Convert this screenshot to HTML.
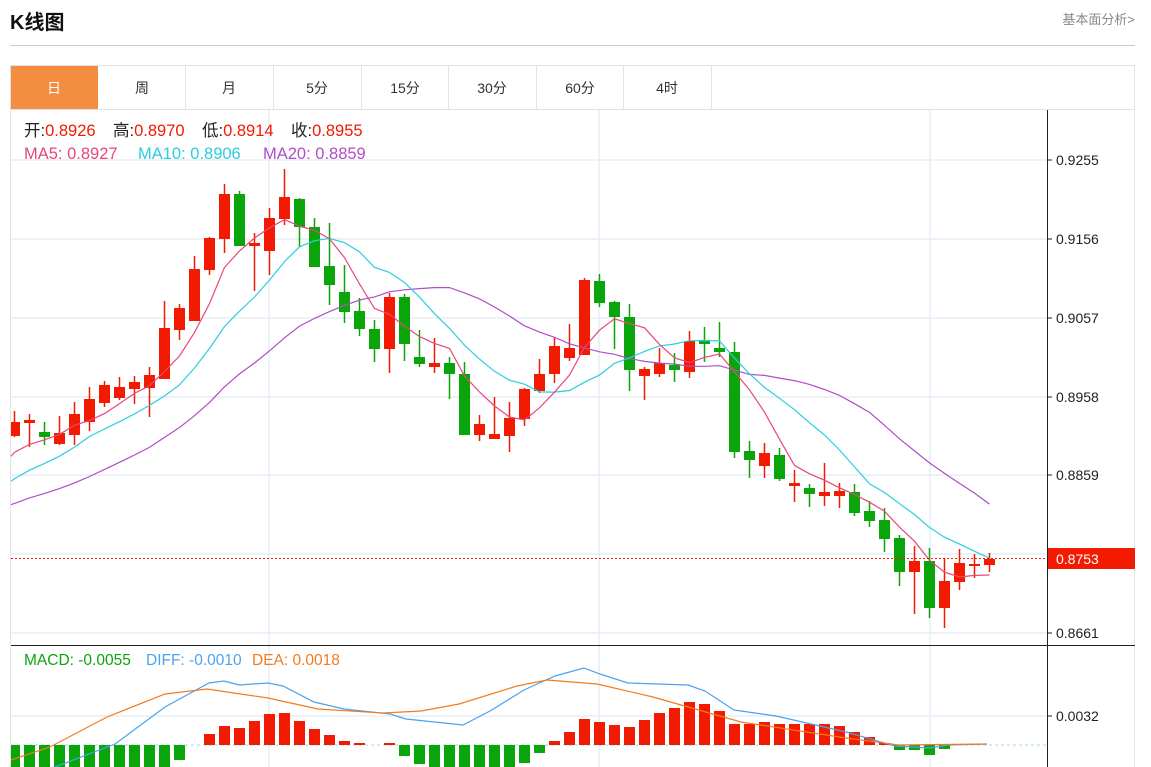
<!DOCTYPE html>
<html><head><meta charset="utf-8">
<style>
body{margin:0;width:1151px;height:767px;overflow:hidden;background:#fff;font-family:"Liberation Sans","Noto Sans CJK SC",sans-serif;}
#t{position:absolute;left:10px;top:6px;font-size:20px;font-weight:bold;color:#111;}
#r{position:absolute;right:16px;top:9px;font-size:13px;color:#888;}
svg{position:absolute;left:0;top:0;}
</style></head><body>
<div id="t">K线图</div>
<div id="r">基本面分析&gt;</div>
<svg id="s" width="1151" height="767" font-family="Liberation Sans, Noto Sans CJK SC, sans-serif">
<defs><clipPath id="cp"><rect x="11" y="110" width="1036" height="657"/></clipPath></defs>
<line x1="10" y1="45.5" x2="1135" y2="45.5" stroke="#ccc"/>
<rect x="10.5" y="65.5" width="1124" height="702" fill="none" stroke="#e3e3e3"/>
<line x1="10" y1="109.5" x2="1135" y2="109.5" stroke="#e3e3e3"/>
<rect x="11" y="66" width="87" height="43" fill="#f38d40"/>
<g stroke="#e3e3e3"><line x1="185.5" y1="66" x2="185.5" y2="109"/><line x1="273.5" y1="66" x2="273.5" y2="109"/><line x1="361.5" y1="66" x2="361.5" y2="109"/><line x1="448.5" y1="66" x2="448.5" y2="109"/><line x1="536.5" y1="66" x2="536.5" y2="109"/><line x1="623.5" y1="66" x2="623.5" y2="109"/><line x1="711.5" y1="66" x2="711.5" y2="109"/></g>
<g font-size="14" text-anchor="middle" fill="#333">
<text x="54" y="93" fill="#fff">日</text><text x="142" y="93">周</text><text x="229" y="93">月</text><text x="317" y="93">5分</text><text x="405" y="93">15分</text><text x="492" y="93">30分</text><text x="580" y="93">60分</text><text x="667" y="93">4时</text>
</g>
<g stroke="#e6edf5" stroke-width="1.5">
<line x1="11" y1="160" x2="1047" y2="160"/><line x1="11" y1="239" x2="1047" y2="239"/><line x1="11" y1="318" x2="1047" y2="318"/><line x1="11" y1="397" x2="1047" y2="397"/><line x1="11" y1="475" x2="1047" y2="475"/><line x1="11" y1="554" x2="1047" y2="554"/><line x1="11" y1="633" x2="1047" y2="633"/><line x1="11" y1="716" x2="1047" y2="716"/>
<line x1="269" y1="110" x2="269" y2="767"/><line x1="599" y1="110" x2="599" y2="767"/><line x1="930" y1="110" x2="930" y2="767"/>
</g>
<line x1="1047.5" y1="110" x2="1047.5" y2="767" stroke="#222"/>
<line x1="11" y1="645.5" x2="1135" y2="645.5" stroke="#222"/>
<g font-size="14" fill="#222">
<g stroke="#222"><line x1="1047" y1="160" x2="1052" y2="160"/><line x1="1047" y1="239" x2="1052" y2="239"/><line x1="1047" y1="318" x2="1052" y2="318"/><line x1="1047" y1="397" x2="1052" y2="397"/><line x1="1047" y1="475" x2="1052" y2="475"/><line x1="1047" y1="633" x2="1052" y2="633"/><line x1="1047" y1="716" x2="1052" y2="716"/></g>
<text x="1056" y="165">0.9255</text><text x="1056" y="244">0.9156</text><text x="1056" y="323">0.9057</text><text x="1056" y="402">0.8958</text><text x="1056" y="480">0.8859</text><text x="1056" y="638">0.8661</text><text x="1056" y="721">0.0032</text>
</g>
<g id="c" clip-path="url(#cp)"></g>
<line x1="11" y1="558.5" x2="1047" y2="558.5" stroke="#f21a00" stroke-dasharray="2,2"/>
<rect x="1048" y="548" width="87" height="21" fill="#f21a00"/>
<text x="1056" y="564" font-size="14" fill="#fff">0.8753</text>
<g font-size="16.5">
<text x="24" y="136" fill="#222">开:<tspan fill="#f21a00">0.8926</tspan></text>
<text x="113" y="136" fill="#222">高:<tspan fill="#f21a00">0.8970</tspan></text>
<text x="202" y="136" fill="#222">低:<tspan fill="#f21a00">0.8914</tspan></text>
<text x="291" y="136" fill="#222">收:<tspan fill="#f21a00">0.8955</tspan></text>
<text x="24" y="159" fill="#e9467a">MA5: 0.8927</text>
<text x="138" y="159" fill="#2ccde0">MA10: 0.8906</text>
<text x="263" y="159" fill="#b04ec6">MA20: 0.8859</text>
</g>
<g font-size="15.5">
<text x="24" y="665" fill="#0aa50a">MACD: -0.0055</text>
<text x="146" y="665" fill="#4aa3f0">DIFF: -0.0010</text>
<text x="252" y="665" fill="#f37b1d">DEA: 0.0018</text>
</g>
</svg>
<script>
var C=[
[422,436,411,437,1],[420,423,414,447,1],[432,437,422,445,0],[433,444,416,445,1],[414,435,402,445,1],[399,422,387,431,1],[385,403,381,407,1],[387,398,377,400,1],[382,389,376,404,1],[375,388,367,417,1],
[328,379,301,379,1],[308,330,304,340,1],[269,321,256,321,1],[238,270,237,275,1],[194,239,184,253,1],[194,246,191,246,0],[243,246,233,291,1],[218,251,208,275,1],[197,219,169,225,1],[199,227,198,247,0],
[227,267,218,267,0],[266,285,223,305,0],[292,312,265,323,0],[311,329,298,336,0],[329,349,320,362,0],[297,349,293,373,1],[297,344,294,361,0],[357,364,330,367,0],[363,367,338,373,1],[363,374,357,399,0],
[374,435,362,435,0],[424,435,415,441,1],[434,439,397,439,1],[418,436,402,452,1],[389,419,388,426,1],[374,391,359,393,1],[346,374,337,383,1],[348,358,324,361,1],[280,355,278,355,1],[281,303,274,307,0],
[302,317,301,349,0],[317,370,304,391,0],[369,376,367,400,1],[363,374,348,377,1],[365,370,353,382,0],[341,372,331,378,1],[341,344,327,362,0],[348,352,322,357,0],[352,452,342,458,0],[451,460,441,478,0],
[453,466,443,478,1],[455,479,448,481,0],[483,486,470,502,1],[488,494,484,507,0],[492,496,463,506,1],[491,496,483,508,1],[492,513,484,516,0],[511,521,501,527,0],[520,539,508,552,0],[538,572,535,586,0],
[561,572,546,614,1],[561,608,548,618,0],[581,608,558,628,1],[563,582,549,590,1],[564,566,554,578,1],[559,565,553,572,1]];
var R='#f21a00',G='#0aa50a',h='';
function X(i){return 14.5+15*i;}
var cl=[];for(var k=0;k<10;k++)cl.push(528);for(k=0;k<5;k++)cl.push(505);for(k=0;k<4;k++)cl.push(460);
C.forEach(function(c,i){var x=X(i),col=c[4]?R:G;cl.push(c[4]?c[0]:c[1]);
h+='<line x1="'+x+'" y1="'+c[2]+'" x2="'+x+'" y2="'+c[3]+'" stroke="'+col+'" stroke-width="1.5"/>';
h+='<rect x="'+(x-5.5)+'" y="'+c[0]+'" width="11" height="'+Math.max(2,c[1]-c[0])+'" fill="'+col+'"/>';});
function ma(n,col){var p=[];for(var i=-1;i<C.length;i++){var j=i+19,s=0;for(var k=0;k<n;k++)s+=cl[Math.max(0,j-k)];var y=s/n;var x=X(i);p.push(x+','+y.toFixed(1));}
return '<polyline fill="none" stroke="'+col+'" stroke-width="1.2" points="'+p.join(' ')+'"/>';}
h+=ma(20,'#b04ec6')+ma(10,'#2ccde0')+ma(5,'#e9467a');
var M={0:767,1:767,2:767,3:767,4:767,5:767,6:767,7:767,8:767,9:767,10:767,11:760,13:734,14:726,15:728,16:721,17:714,18:713,19:721,20:729,21:735,22:741,23:743,25:743,26:756,27:764,28:767,29:767,30:767,31:767,32:767,33:767,34:763,35:753,36:741,37:732,38:719,39:722,40:725,41:727,42:720,43:713,44:708,45:702,46:704,47:711,48:724,49:724,50:722,51:724,52:724,53:724,54:724,55:726,56:732,57:737,58:743,59:750,60:750,61:755,62:749};
var Z=745;
h+='<line x1="11" y1="745" x2="1047" y2="745" stroke="#9fd6ea" stroke-dasharray="3,3"/>';
for(var i in M){var y=M[i],x=X(+i);if(y<Z)h+='<rect x="'+(x-5.5)+'" y="'+y+'" width="11" height="'+(Z-y)+'" fill="'+R+'"/>';else h+='<rect x="'+(x-5.5)+'" y="'+Z+'" width="11" height="'+(y-Z)+'" fill="'+G+'"/>';}
h+='<polyline fill="none" stroke="#4aa3f0" stroke-width="1.2" points="40,770 55,767 115,744 165,707 209,683 224,681 239,685 268,683 283,686 314,702 344,709 390,714 406,719 463,725 490,711 524,690 555,676 584,668 600,674 628,683 688,685 705,691 734,710 776,716 846,732 895,746 930,748 948,745 987,744"/>';
h+='<polyline fill="none" stroke="#f37b1d" stroke-width="1.2" points="11,760 50,747 107,717 165,694 207,689 268,698 318,709 383,713 421,711 459,704 517,686 547,680 597,684 653,697 688,707 741,722 846,738 899,745 987,744"/>';
document.getElementById('c').innerHTML=h;
</script>
</body></html>
